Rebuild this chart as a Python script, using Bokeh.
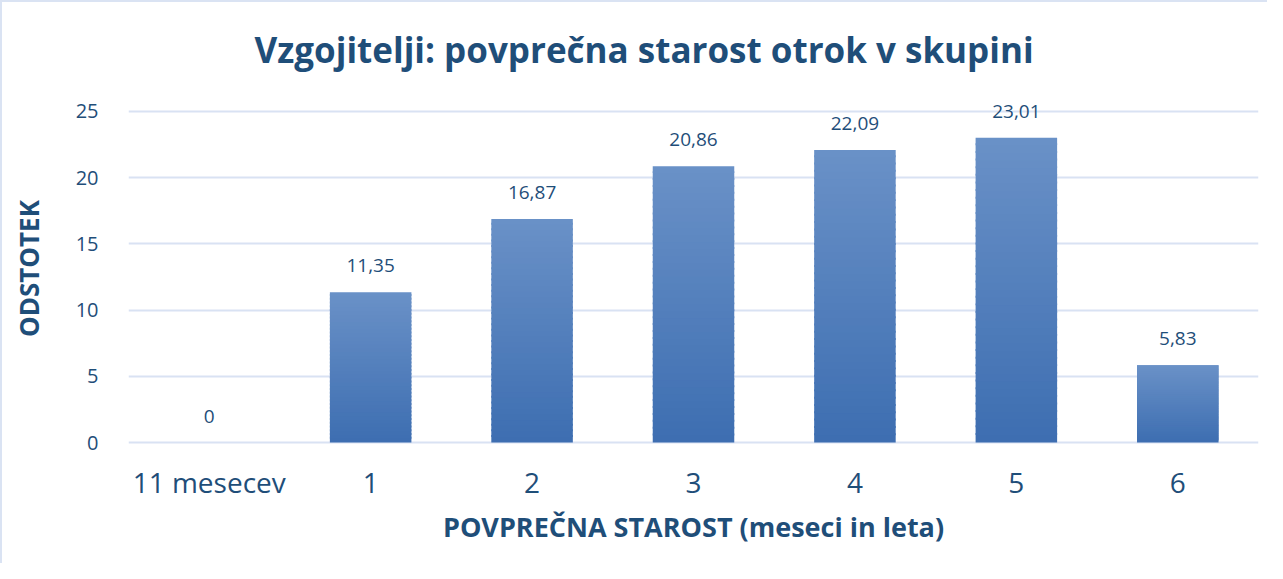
from bokeh.plotting import figure
from bokeh.models import Range1d, FactorRange, ColumnDataSource, SingleIntervalTicker
from bokeh.core.properties import value
from bokeh.embed import file_html
from bokeh.resources import INLINE

# ---- data ----
categories = ["11 mesecev", "1", "2", "3", "4", "5", "6"]
percent = [0, 11.35, 16.87, 20.86, 22.09, 23.01, 5.83]

title_text = "Vzgojitelji: povprečna starost otrok v skupini"
x_title = "POVPREČNA STAROST (meseci in leta)"
y_title = "ODSTOTEK"

TXT = "#1F4E79"
GRID = "#D9E2F3"
FONT = "Open Sans"

W, H = 1267, 563
p = figure(width=W, height=H, x_range=FactorRange(*categories, range_padding=0),
           y_range=Range1d(-0.225, 26.5), output_backend="svg",
           toolbar_location=None, min_border_left=126, min_border_right=11,
           min_border_top=89, min_border_bottom=120)
p.styles = {"border-left": "2px solid #DAE3F3", "border-top": "2px solid #DAE3F3"}
p.outline_line_color = None

p.title.text = title_text
p.title.align = "left"
p.title.offset = 126
p.title.text_font = FONT
p.title.text_font_size = "35px"
p.title.text_font_style = "bold"
p.title.text_color = TXT
p.title.standoff = 38

# gradient bars: stacked thin slices, lighter at top
top_rgb = (0x6A, 0x91, 0xC7)
bot_rgb = (0x3D, 0x6E, 0xB1)
N = 40
for i in range(N):
    f0, f1 = i / N, (i + 1) / N
    t = (i + 0.5) / N
    col = "#%02x%02x%02x" % tuple(int(round(b + (a - b) * t)) for a, b in zip(top_rgb, bot_rgb))
    ov = 0.15 if i < N - 1 else 0.0
    src = ColumnDataSource(dict(x=categories,
                                b=[v * f0 for v in percent],
                                t=[v * f1 + (ov if v > 0 else 0) for v in percent]))
    p.vbar(x="x", bottom="b", top="t", width=0.505, source=src,
           fill_color=col, line_color=None)

labels = ["0" if v == 0 else f"{v:.2f}".replace(".", ",") for v in percent]
lsrc = ColumnDataSource(dict(x=categories, y=percent, t=labels))
p.text(x="x", y="y", text="t", source=lsrc, text_align="center", text_baseline="bottom",
       y_offset=-20, text_font=value(FONT), text_font_size="19px", text_color=TXT)

p.xgrid.grid_line_color = None
p.ygrid.grid_line_color = GRID
p.ygrid.grid_line_width = 2
p.yaxis.ticker = SingleIntervalTicker(interval=5)

for ax in (p.xaxis[0], p.yaxis[0]):
    ax.axis_line_color = None
    ax.major_tick_line_color = None
    ax.minor_tick_line_color = None
    ax.major_label_text_color = TXT
    ax.major_label_text_font = FONT
    ax.axis_label_text_color = TXT
    ax.axis_label_text_font = FONT
    ax.axis_label_text_font_style = "bold"

p.yaxis.major_label_text_font_size = "20px"
p.yaxis.major_label_standoff = 24
p.yaxis.axis_label = y_title
p.yaxis.axis_label_text_font_size = "26px"
p.yaxis.axis_label_standoff = 26

p.xaxis.major_label_text_font_size = "28px"
p.xaxis.major_label_standoff = 11
p.xaxis.axis_label = x_title
p.xaxis.axis_label_text_font_size = "27px"
p.xaxis.axis_label_standoff = 4

open("out.html", "w").write(file_html(p, INLINE))
